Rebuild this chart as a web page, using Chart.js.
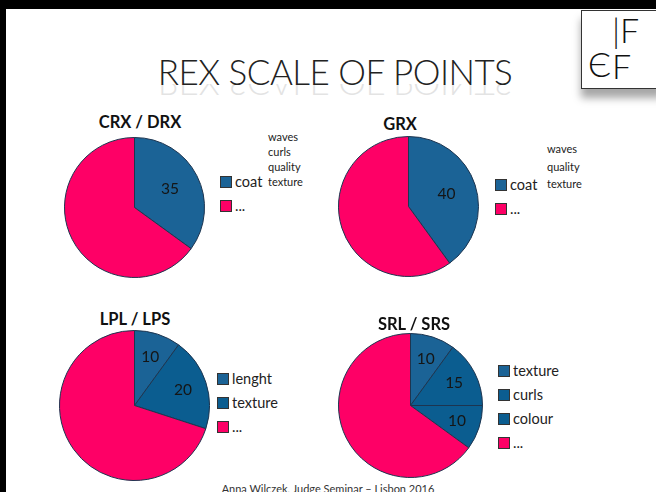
<!DOCTYPE html>
<html>
<head>
<meta charset="utf-8">
<script src="https://cdn.jsdelivr.net/npm/chart.js@4/dist/chart.umd.min.js"></script>
<style>
  html, body { margin: 0; padding: 0; width: 656px; height: 492px; overflow: hidden; background: #000; font-family: Lato, "Open Sans", sans-serif; }
  #slide { position: absolute; left: 6px; top: 9px; width: 650px; height: 483px; background: #fff; overflow: hidden; }
  #inner { position: absolute; left: -6px; top: -9px; width: 656px; height: 492px; }
  .title { position: absolute; left: 140px; width: 390px; text-align: center; font-weight: 300; font-size: 35px; color: #222; letter-spacing: -0.5px; }
  #title { top: 50px; }
  #reflect { top: 84px; transform: scaleY(-1); opacity: 0.12; height: 22px; overflow: hidden; line-height: 44px; }
  .box { position: absolute; }
  .pietitle { position: absolute; font-weight: bold; font-size: 16.5px; color: #111; transform: translateX(-50%); white-space: nowrap; }
  .leg { position: absolute; font-size: 14.5px; color: #222; }
  .leg div { height: 24px; line-height: 24px; white-space: nowrap; }
  .leg span.sq { display: inline-block; width: 10px; height: 10px; border: 1px solid #333; margin-right: 3px; vertical-align: -1px; }
  .note { position: absolute; font-size: 11px; line-height: 15px; color: #222; }
  #footer { position: absolute; left: 0; width: 656px; top: 482px; text-align: center; font-size: 11px; color: #333; }
  #logo { position: absolute; left: 581px; top: 10px; width: 80px; height: 77px; border: 1px solid #333; background: #fff; box-shadow: 0 9px 8px rgba(0,0,0,0.35); font-weight: 300; color: #111; }
  #logo span { position: absolute; font-size: 34px; line-height: 34px; }
</style>
</head>
<body>
<div id="slide"><div id="inner">
  <div class="title" id="title">REX SCALE OF POINTS</div>
  <div class="title" id="reflect">REX SCALE OF POINTS</div>
  <div id="logo">
    <span style="left:30px;top:2px;">|F</span>
    <span style="left:6px;top:36px;">Є</span>
    <span style="left:30px;top:38px;">F</span>
  </div>
  <div id="footer">Anna Wilczek, Judge Seminar – Lisbon 2016</div>
</div></div>

<script>
// Data
const crx_labels = ['coat', '...'];
const crx_values = [35, 65];
const grx_labels = ['coat', '...'];
const grx_values = [40, 60];
const lpl_labels = ['lenght', 'texture', '...'];
const lpl_values = [10, 20, 70];
const srl_labels = ['texture', 'curls', 'colour', '...'];
const srl_values = [10, 15, 10, 65];

const crx_notes = ['waves', 'curls', 'quality', 'texture'];
const grx_notes = ['waves', 'quality', 'texture'];

const pink = '#fe0066';
const blue1 = '#1b6396';
const blue2 = '#0b5d90';

// chart setups: title, labels, values, colours, pie box, title pos, legend pos
const charts = [
    { title: 'CRX / DRX', labels: crx_labels, values: crx_values, colors: [blue1, pink],
      box: [64, 137, 141], tpos: [140, 112], leg: [220, 170], notes: crx_notes, npos: [268, 129, 15] },
    { title: 'GRX', labels: grx_labels, values: grx_values, colors: [blue1, pink],
      box: [338, 136, 141], tpos: [400, 114], leg: [495, 173], notes: grx_notes, npos: [547, 140, 17.5] },
    { title: 'LPL / LPS', labels: lpl_labels, values: lpl_values, colors: [blue1, blue2, pink],
      box: [59, 330, 151], tpos: [135, 309], leg: [217, 367] },
    { title: 'SRL / SRS', labels: srl_labels, values: srl_values, colors: [blue1, blue2, blue2, pink],
      box: [338, 333, 145], tpos: [414, 314], leg: [498, 359] }
];

// numbers on the blue slices
const sliceLabels = {
    id: 'sliceLabels',
    afterDatasetsDraw(chart) {
        const ctx = chart.ctx;
        const meta = chart.getDatasetMeta(0);
        const values = chart.data.datasets[0].data;
        ctx.save();
        ctx.font = '15.5px Lato, "Open Sans", sans-serif';
        ctx.fillStyle = '#151515';
        ctx.textAlign = 'center';
        ctx.textBaseline = 'middle';
        meta.data.forEach(function(arc, i) {
            if (i == values.length - 1) return; // no label on the "..." slice
            const p = arc.getProps(['x', 'y', 'startAngle', 'endAngle', 'outerRadius']);
            const mid = (p.startAngle + p.endAngle) / 2;
            const k = values.length > 2 ? 0.68 : 0.57;
            ctx.fillText(values[i], p.x + Math.cos(mid) * p.outerRadius * k, p.y + Math.sin(mid) * p.outerRadius * k);
        });
        ctx.restore();
    }
};

const slide = document.getElementById('inner');

charts.forEach(function(c) {
    const box = document.createElement('div');
    box.className = 'box';
    box.style.left = c.box[0] + 'px';
    box.style.top = c.box[1] + 'px';
    box.style.width = c.box[2] + 'px';
    box.style.height = c.box[2] + 'px';
    const canvas = document.createElement('canvas');
    box.appendChild(canvas);
    slide.appendChild(box);

    const t = document.createElement('div');
    t.className = 'pietitle';
    t.style.left = c.tpos[0] + 'px';
    t.style.top = c.tpos[1] + 'px';
    t.textContent = c.title;
    slide.appendChild(t);

    // legend
    const leg = document.createElement('div');
    leg.className = 'leg';
    leg.style.left = c.leg[0] + 'px';
    leg.style.top = c.leg[1] + 'px';
    c.labels.forEach(function(l, i) {
        const row = document.createElement('div');
        const sq = document.createElement('span');
        sq.className = 'sq';
        sq.style.background = c.colors[i];
        row.appendChild(sq);
        row.appendChild(document.createTextNode(l));
        leg.appendChild(row);
    });
    slide.appendChild(leg);

    if (c.notes) {
        const n = document.createElement('div');
        n.className = 'note';
        n.style.left = c.npos[0] + 'px';
        n.style.top = c.npos[1] + 'px';
        n.style.lineHeight = c.npos[2] + 'px';
        n.innerHTML = c.notes.join('<br>');
        slide.appendChild(n);
    }

    new Chart(canvas, {
        type: 'pie',
        data: {
            labels: c.labels,
            datasets: [{
                data: c.values,
                backgroundColor: c.colors,
                borderColor: '#1d3550',
                borderWidth: 1
            }]
        },
        options: {
            responsive: true,
            maintainAspectRatio: false,
            animation: false,
            layout: { padding: 0 },
            plugins: {
                legend: { display: false },
                tooltip: { enabled: false }
            }
        },
        plugins: [sliceLabels]
    });
});
</script>
</body>
</html>
